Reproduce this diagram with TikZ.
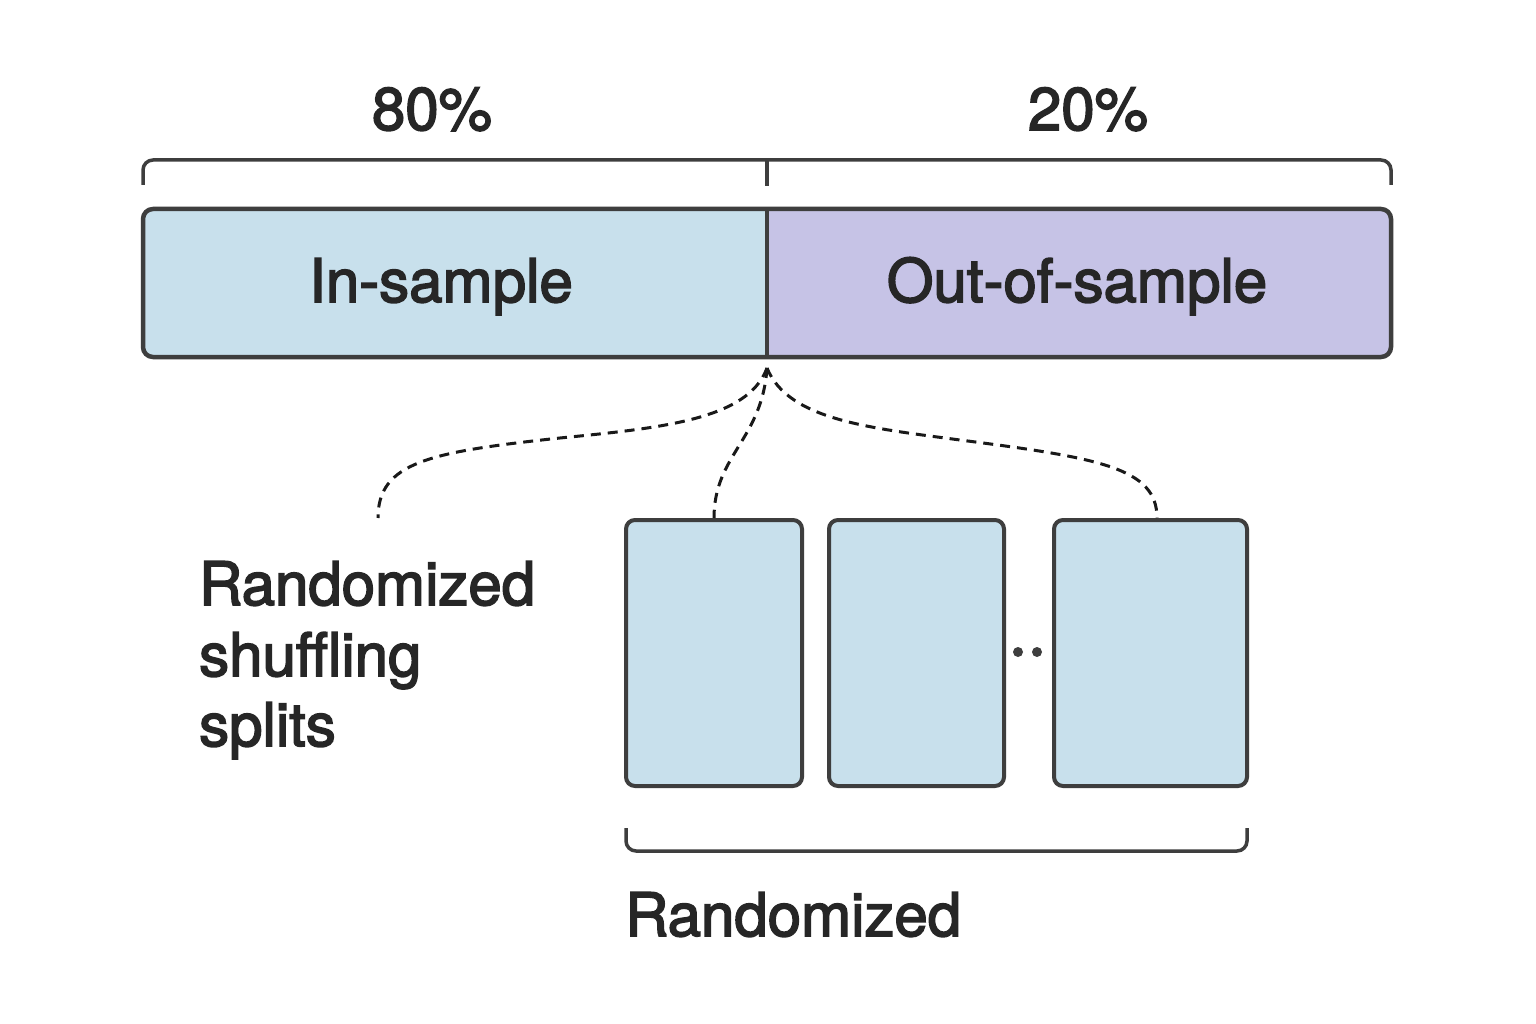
\documentclass[tikz,border=0pt]{standalone}
\usepackage{fontspec}
\setmainfont{TeX Gyre Heros}
\newfontfamily\labelfont{TeX Gyre Heros}[FakeBold=2.6]
\definecolor{strokec}{HTML}{3E3E3E}
\definecolor{textc}{HTML}{262626}
\definecolor{inc}{HTML}{C8E0EC}
\definecolor{outc}{HTML}{C6C3E6}
\begin{document}
\begin{tikzpicture}[x=1pt,y=-1pt,
  bigtext/.style={font=\labelfont\fontsize{60}{72}\selectfont, text=textc, inner sep=0pt},
  smallbox/.style={draw=strokec, line width=4pt, fill=inc, rounded corners=9pt, minimum width=#1, minimum height=266pt, inner sep=0pt},
  bracketline/.style={draw=strokec, line width=3.5pt, rounded corners=10pt},
  dashline/.style={draw=black!90, line width=3pt, dash pattern=on 10pt off 7pt}]
\useasboundingbox (0,0) rectangle (1536,1024);
\fill[white] (0,0) rectangle (1536,1024);

% percent labels
\node[bigtext, anchor=base] (p80) at (432,130) {80\%};
\node[bigtext, anchor=base] (p20) at (1088,130) {20\%};

% top bracket
\draw[bracketline] (143,185) -- (143,160) -- (1391,160) -- (1391,185);
\draw[draw=strokec, line width=3.5pt] (767,160) -- (767,186);

% main bar
\begin{scope}
\clip[rounded corners=10pt] (143,209) rectangle (1391,357);
\fill[inc] (143,209) rectangle (767,357);
\fill[outc] (767,209) rectangle (1391,357);
\end{scope}
\draw[draw=strokec, line width=4.5pt, rounded corners=10pt] (143,209) rectangle (1391,357);
\draw[draw=strokec, line width=3.5pt] (767,209) -- (767,357);
\node[bigtext, anchor=base] (ins) at (441,302) {In-sample};
\node[bigtext, anchor=base] (oos) at (1077,302) {Out-of-sample};

% split point
\coordinate (split) at (767,368);
\coordinate (leftend) at (378,518);

% small boxes
\node[smallbox=176pt] (b1) at (714,653) {};
\node[smallbox=175pt] (b2) at (916.5,653) {};
\node[smallbox=193pt] (b3) at (1150.5,653) {};

% dots
\fill[strokec] (1018,652) circle (5pt);
\fill[strokec] (1037,652) circle (5pt);

% dashed connectors
\draw[dashline] (split) .. controls (748,420) and (660,428) .. (560,438)
   .. controls (430,452) and (378,462) .. (leftend);
\draw[dashline] (split) .. controls (762,440) and (714,455) .. (b1.north);
\draw[dashline] (split) .. controls (788,420) and (870,428) .. (960,440)
   .. controls (1100,458) and (1157,468) .. (b3.north -| 1157,0);

% bottom bracket
\draw[bracketline] (626,828) -- (626,851) -- (1247,851) -- (1247,828);

% labels
\node[bigtext, anchor=base west] (l1) at (199,605) {Randomized};
\node[bigtext, anchor=base west] (l2) at (199,676) {shuffling};
\node[bigtext, anchor=base west] (l3) at (199,746) {splits};
\node[bigtext, anchor=base west] (rnd) at (625,936) {Randomized};
\end{tikzpicture}
\end{document}
